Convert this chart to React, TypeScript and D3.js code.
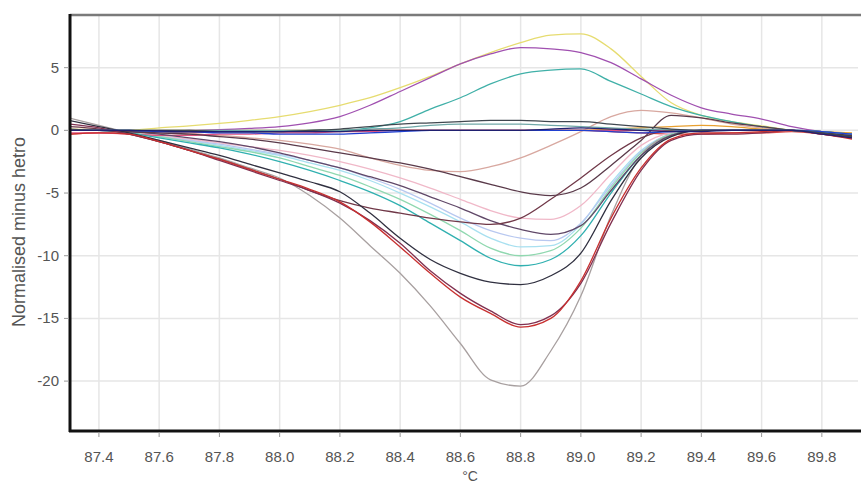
import React from "react";
import * as d3 from "d3";

const temps = [87.3, 87.4, 87.5, 87.6, 87.7, 87.8, 87.9, 88.0, 88.1, 88.2, 88.3, 88.4, 88.5, 88.6, 88.7, 88.8, 88.9, 89.0, 89.1, 89.2, 89.3, 89.4, 89.5, 89.6, 89.7, 89.8, 89.9];

const xTicks = [87.4, 87.6, 87.8, 88.0, 88.2, 88.4, 88.6, 88.8, 89.0, 89.2, 89.4, 89.6, 89.8];
const yTicks = [5, 0, -5, -10, -15, -20];

const seriesColors = [
  "#d84848", "#a8e0f0", "#f0b8c8", "#b8c8f0", "#90d8b0", "#d8a8a0", "#e8a030", "#e05080",
  "#e6dc70", "#a050b0", "#40b0a8", "#30b0b0", "#a8a0a0", "#604868", "#703848",
  "#5a3a4a", "#303040", "#803050", "#c83030", "#70a8a8", "#2040d0", "#404850", "#202070",
];

const flatRed = [-0.3, -0.2, -0.2, -0.2, -0.2, -0.1, -0.1, -0.1, -0.1, 0, 0, 0, 0, 0, 0, 0, 0, 0, -0.1, -0.2, -0.3, -0.3, -0.2, -0.2, -0.1, -0.3, -0.6];
const lightCyan = [0, 0, -0.2, -0.5, -0.8, -1.2, -1.6, -2.0, -2.6, -3.2, -4.0, -5.0, -6.1, -7.3, -8.6, -9.3, -9.2, -7.5, -4.2, -1.6, -0.3, 0, 0, 0, 0, -0.1, -0.3];
const lightPink = [0, 0, -0.2, -0.4, -0.7, -1.0, -1.3, -1.6, -2.0, -2.5, -3.1, -3.8, -4.6, -5.5, -6.4, -7.0, -7.1, -6.0, -3.5, -1.2, -0.2, 0, 0, 0, 0, -0.1, -0.3];
const lightBlue = [0, 0, -0.2, -0.5, -0.8, -1.1, -1.5, -1.9, -2.4, -3.0, -3.8, -4.7, -5.8, -7.0, -8.0, -8.6, -8.8, -7.4, -4.4, -1.7, -0.3, 0, 0, 0, 0, -0.1, -0.3];
const lightGreen = [0, 0, -0.2, -0.5, -0.9, -1.3, -1.7, -2.2, -2.9, -3.6, -4.5, -5.5, -6.7, -8.0, -9.4, -10.0, -9.6, -7.8, -4.6, -1.8, -0.3, 0, 0, 0, 0, -0.1, -0.3];
const tan = [0, 0, -0.1, -0.2, -0.3, -0.4, -0.6, -0.8, -1.1, -1.5, -2.2, -2.8, -3.2, -3.3, -2.9, -2.2, -1.2, -0.1, 1.1, 1.6, 1.4, 1.0, 0.5, 0.2, 0, -0.1, -0.3];
const orange = [0, 0, 0, 0, 0, 0, 0, 0, 0, 0, 0, 0, 0, 0, 0, 0, 0, 0, 0.1, 0.2, 0.3, 0.4, 0.3, 0.1, 0, -0.1, -0.2];
const pink = [-0.2, -0.2, -0.3, -0.4, -0.4, -0.3, -0.3, -0.2, -0.2, -0.1, -0.1, 0, 0, 0, 0, 0, 0, 0, 0, 0, 0, 0, 0, 0, 0, -0.2, -0.4];
const yellow = [0.1, 0.05, 0, 0.2, 0.35, 0.55, 0.8, 1.1, 1.5, 2.0, 2.6, 3.4, 4.3, 5.3, 6.2, 7.0, 7.6, 7.7, 6.5, 4.3, 2.2, 1.2, 0.7, 0.35, 0, -0.2, -0.4];
const purpleTop = [0, 0, -0.1, -0.1, 0, 0.05, 0.15, 0.3, 0.6, 1.1, 2.0, 3.1, 4.2, 5.3, 6.1, 6.6, 6.5, 6.2, 5.4, 4.1, 2.8, 1.8, 1.3, 0.9, 0.3, -0.1, -0.3];
const tealTop = [0, 0, 0, -0.1, -0.1, -0.1, -0.1, -0.1, 0, 0, 0.2, 0.7, 1.7, 2.6, 3.7, 4.5, 4.8, 4.9, 3.9, 2.9, 1.9, 1.2, 0.7, 0.3, 0, -0.1, -0.3];
const teal = [0, 0, -0.2, -0.6, -1.0, -1.4, -1.9, -2.5, -3.2, -4.0, -4.9, -6.0, -7.4, -8.8, -10.2, -10.8, -10.3, -8.4, -5.0, -2.0, -0.4, 0, 0, 0, 0, -0.1, -0.4];
const gray = [1.0, 0.4, -0.2, -0.8, -1.5, -2.2, -3.0, -3.8, -5.2, -7.0, -9.2, -11.4, -14.0, -17.0, -19.9, -20.4, -17.6, -13.2, -6.8, -2.0, -0.4, 0, 0, 0, 0, -0.2, -0.5];
const darkPurple = [0, 0, -0.1, -0.3, -0.6, -0.9, -1.3, -1.8, -2.4, -3.0, -3.7, -4.4, -5.3, -6.2, -7.2, -7.9, -8.3, -7.6, -4.8, -2.0, -0.4, 0, 0, 0, 0, -0.1, -0.4];
const darkMaroon = [0.3, 0.1, -0.3, -0.9, -1.6, -2.3, -3.1, -3.9, -4.8, -5.6, -6.2, -6.6, -7.0, -7.3, -7.5, -7.0, -5.5, -3.8, -2.0, -0.6, 0, 0, 0, 0, 0, -0.2, -0.5];
const plum = [0, 0, -0.1, -0.2, -0.3, -0.5, -0.7, -1.0, -1.4, -1.8, -2.2, -2.6, -3.1, -3.7, -4.3, -4.9, -5.2, -4.6, -2.8, -0.8, 1.2, 1.0, 0.6, 0.3, 0, -0.2, -0.4];
const darkNavy = [0.8, 0.3, -0.2, -0.8, -1.4, -2.0, -2.7, -3.4, -4.1, -4.9, -6.6, -8.6, -10.3, -11.4, -12.1, -12.3, -11.6, -9.8, -5.6, -2.2, -0.5, 0, 0, 0, 0, -0.2, -0.5];
const maroon = [0.5, 0.2, -0.3, -0.9, -1.6, -2.4, -3.2, -4.0, -4.8, -5.8, -7.2, -9.0, -11.2, -13.0, -14.4, -15.5, -14.8, -12.2, -7.4, -3.2, -0.8, -0.3, -0.3, -0.2, 0, -0.3, -0.6];
const red = [-0.3, -0.2, -0.3, -0.9, -1.6, -2.3, -3.1, -3.9, -4.7, -5.7, -7.3, -9.3, -11.4, -13.3, -14.6, -15.7, -15.0, -12.0, -7.0, -3.0, -0.7, -0.2, -0.2, -0.1, 0, -0.3, -0.7];
const tealGray = [0, 0, 0, 0, 0, 0, 0, 0, 0, 0, 0.1, 0.2, 0.4, 0.5, 0.5, 0.5, 0.4, 0.3, 0.2, 0.1, 0.05, 0, 0, 0, 0, -0.1, -0.3];
const blue = [0, 0, 0, -0.1, -0.1, -0.2, -0.2, -0.3, -0.3, -0.3, -0.2, -0.1, 0, 0, 0, 0, 0, 0, -0.1, -0.2, -0.1, 0, 0, 0, 0, -0.1, -0.3];
const darkGray = [0.1, 0, 0, 0, 0, -0.1, -0.1, -0.1, 0, 0.1, 0.3, 0.5, 0.6, 0.7, 0.8, 0.8, 0.7, 0.7, 0.5, 0.3, 0.1, 0, 0, 0, 0, -0.2, -0.5];
const navy = [0, 0, 0, -0.05, -0.1, -0.1, -0.1, -0.1, -0.1, -0.1, 0, 0, 0, 0, 0, 0, 0.1, 0.2, 0.1, 0, -0.1, -0.1, 0, 0, 0, -0.3, -0.6];

const seriesList = [
  flatRed, lightCyan, lightPink, lightBlue, lightGreen, tan, orange, pink,
  yellow, purpleTop, tealTop, teal, gray, darkPurple, darkMaroon,
  plum, darkNavy, maroon, red, tealGray, blue, darkGray, navy,
];

const W = 861;
const H = 484;
const L = 70, R = 858, T = 15, B = 430;

export default function App() {
  const x = d3.scaleLinear().domain([87.304, 89.92]).range([L, R]);
  const y = d3.scaleLinear().domain([9.2, -23.9]).range([T, B]);
  const line = d3
    .line<number>()
    .x((_, i) => x(temps[i]))
    .y((d) => y(d))
    .curve(d3.curveMonotoneX);

  const font = "'Liberation Sans', Arial, sans-serif";

  return (
    <svg
      width={W}
      height={H}
      style={{ position: "absolute", left: 0, top: 0, background: "#fff" }}
    >
      <defs>
        <clipPath id="plot">
          <rect x={L} y={T} width={R - L} height={B - T} />
        </clipPath>
      </defs>
      {xTicks.map((t) => (
        <line key={"gx" + t} x1={x(t)} x2={x(t)} y1={T} y2={B} stroke="#e6e6e6" strokeWidth={1.5} />
      ))}
      {yTicks.map((t) => (
        <line key={"gy" + t} x1={L} x2={R} y1={y(t)} y2={y(t)} stroke="#e6e6e6" strokeWidth={1.5} />
      ))}
      <g clipPath="url(#plot)">
        {seriesList.map((s, i) => (
          <path
            key={i}
            d={line(s) || ""}
            fill="none"
            stroke={seriesColors[i]}
            strokeWidth={1.3}
            strokeLinejoin="round"
          />
        ))}
      </g>
      <line x1={L} x2={W} y1={T} y2={T} stroke="#7a7a7a" strokeWidth={2.5} />
      <line x1={L} x2={L} y1={T - 1} y2={B + 2} stroke="#111" strokeWidth={3} />
      <line x1={L - 1} x2={W} y1={B + 1} y2={B + 1} stroke="#111" strokeWidth={3} />
      {xTicks.map((t) => (
        <g key={"xt" + t}>
          <line x1={x(t)} x2={x(t)} y1={B + 2} y2={B + 7} stroke="#999" strokeWidth={1} />
          <text
            x={x(t)}
            y={462}
            textAnchor="middle"
            fontFamily={font}
            fontSize={15}
            fill="#555"
          >
            {d3.format(".1f")(t)}
          </text>
        </g>
      ))}
      {yTicks.map((t) => (
        <g key={"yt" + t}>
          <line x1={L - 6} x2={L - 1} y1={y(t)} y2={y(t)} stroke="#999" strokeWidth={1} />
          <text
            x={L - 11}
            y={y(t) + 5}
            textAnchor="end"
            fontFamily={font}
            fontSize={15}
            fill="#555"
          >
            {String(t)}
          </text>
        </g>
      ))}
      <text
        x={(L + R) / 2 + 6}
        y={481}
        textAnchor="middle"
        fontFamily={font}
        fontSize={14}
        fill="#555"
      >
        °C
      </text>
      <text
        transform={`translate(25, 232) rotate(-90)`}
        textAnchor="middle"
        fontFamily={font}
        fontSize={18}
        fill="#555"
      >
        Normalised minus hetro
      </text>
    </svg>
  );
}
